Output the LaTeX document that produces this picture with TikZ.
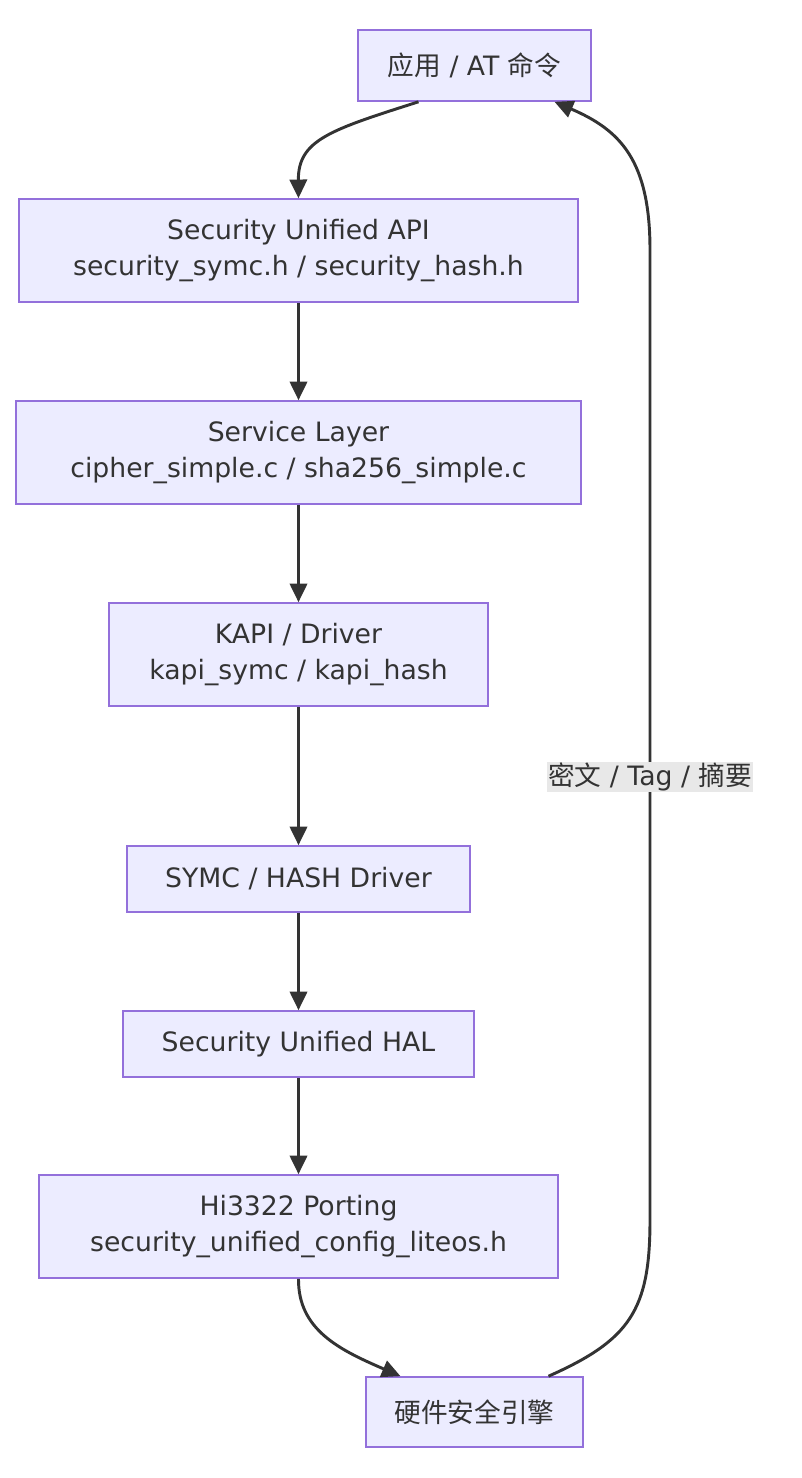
\documentclass[tikz,border=0pt]{standalone}
\usepackage{fontspec}
\setmainfont{DejaVu Sans}
\newfontfamily\cjk{Noto Sans CJK SC}
\usetikzlibrary{arrows.meta}
\definecolor{nfill}{HTML}{ECECFF}
\definecolor{ndraw}{HTML}{9370DB}
\definecolor{txt}{HTML}{333333}
\definecolor{lbl}{HTML}{E8E8E8}
\begin{document}
\begin{tikzpicture}[x=0.75pt,y=-0.75pt,
  box/.style={draw=ndraw,fill=nfill,line width=1.2pt,text=txt,align=center,inner sep=0pt,font=\fontsize{20}{27}\selectfont},
  arr/.style={draw=txt,line width=2.2pt,-{Triangle[length=14pt,width=13pt]}}]
\useasboundingbox (0,0) rectangle (802,1478);
\node[box,minimum width=233*0.75pt,minimum height=71*0.75pt] (app) at (474.5,65.5) {{\cjk 应用} / AT {\cjk 命令}};
\node[box,minimum width=559*0.75pt,minimum height=103*0.75pt] (api) at (298.5,250.5) {Security Unified API\\security\_symc.h / security\_hash.h};
\node[box,minimum width=565*0.75pt,minimum height=103*0.75pt] (svc) at (298.5,452.5) {Service Layer\\cipher\_simple.c / sha256\_simple.c};
\node[box,minimum width=379*0.75pt,minimum height=103*0.75pt] (kapi) at (298.5,654.5) {KAPI / Driver\\kapi\_symc / kapi\_hash};
\node[box,minimum width=343*0.75pt,minimum height=66*0.75pt] (symc) at (298.5,879) {SYMC / HASH Driver};
\node[box,minimum width=351*0.75pt,minimum height=66*0.75pt] (hal) at (298.5,1044) {Security Unified HAL};
\node[box,minimum width=519*0.75pt,minimum height=103*0.75pt] (hi) at (298.5,1226.5) {Hi3322 Porting\\security\_unified\_config\_liteos.h};
\node[box,minimum width=217*0.75pt,minimum height=70*0.75pt] (hw) at (474.5,1412) {\cjk 硬件安全引擎};
\draw[arr] ([xshift=-56*0.75pt]app.south) .. controls (330,130) and (298,140) .. (api.north);
\draw[arr] (api) -- (svc);
\draw[arr] (svc) -- (kapi);
\draw[arr] (kapi) -- (symc);
\draw[arr] (symc) -- (hal);
\draw[arr] (hal) -- (hi);
\draw[arr] (hi.south) .. controls (298,1330) and (340,1350) .. ([xshift=-74*0.75pt]hw.north);
\draw[arr] ([xshift=74*0.75pt]hw.north) .. controls (630,1340) and (650,1310) .. (650,1220) -- (650,250) .. controls (650,160) and (620,130) .. ([xshift=80*0.75pt]app.south);
\node[fill=lbl,text=txt,inner sep=1pt,font=\fontsize{20}{24}\selectfont] (lab) at (650,777) {{\cjk 密文} / Tag / {\cjk 摘要}};
\end{tikzpicture}
\end{document}
